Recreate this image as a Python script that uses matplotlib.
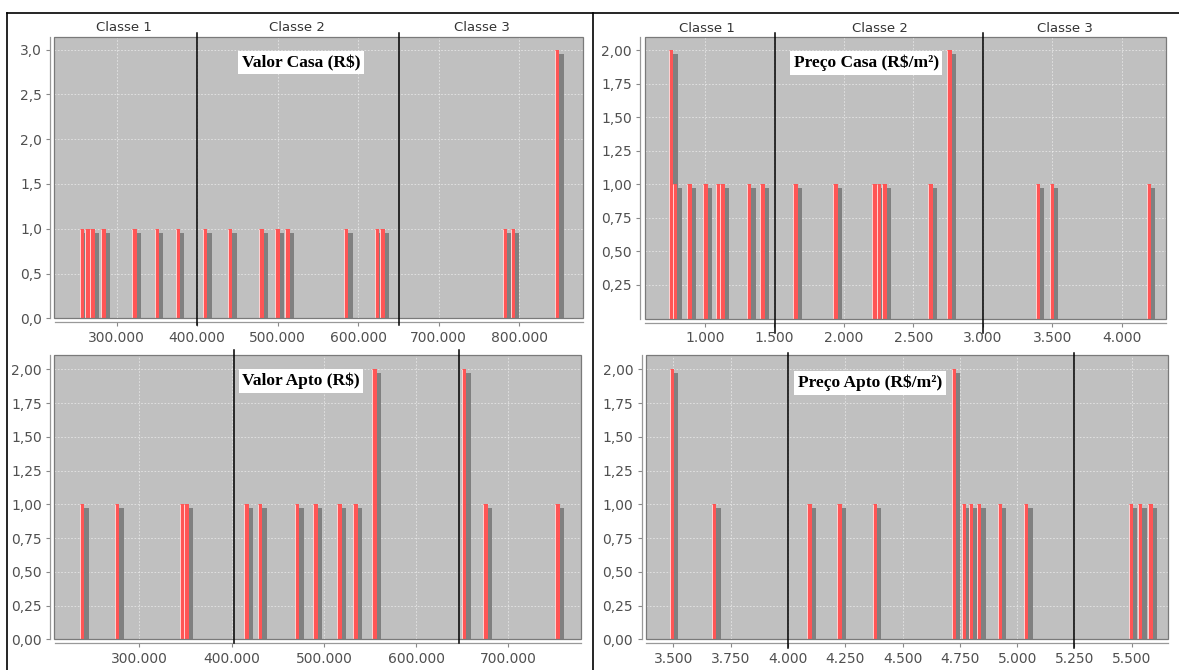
import matplotlib
matplotlib.use("Agg")
import matplotlib.pyplot as plt
import matplotlib.patheffects as pe
from matplotlib.lines import Line2D
from matplotlib.patches import Rectangle

# Valor Casa (R$) - histogram bins (center) and counts
casa_valor = [257000, 264000, 270000, 284000, 322000, 350000, 376000, 410000,
              441000, 480000, 500000, 512000, 585000, 623000, 630000, 782000,
              792000, 847000]
casa_valor_freq = [1, 1, 1, 1, 1, 1, 1, 1, 1, 1, 1, 1, 1, 1, 1, 1, 1, 3]
casa_valor_limites = [400000, 650800]

# Preco Casa (R$/m2)
casa_preco = [759, 788, 889, 1004, 1095, 1129, 1320, 1417, 1651, 1939, 2220,
              2251, 2292, 2623, 2760, 3396, 3496, 4194]
casa_preco_freq = [2, 1, 1, 1, 1, 1, 1, 1, 1, 1, 1, 1, 1, 1, 2, 1, 1, 1]
casa_preco_limites = [1505, 3000]

# Valor Apto (R$)
apto_valor = [238000, 276000, 346000, 351000, 416000, 431000, 471000, 491000,
              517000, 534000, 555000, 652000, 675000, 753000]
apto_valor_freq = [1, 1, 1, 1, 1, 1, 1, 1, 1, 1, 2, 2, 1, 1]
apto_valor_limites = [402500, 646500]

# Preco Apto (R$/m2)
apto_preco = [3493, 3678, 4094, 4224, 4379, 4724, 4768, 4798, 4834, 4924,
              5039, 5497, 5537, 5581]
apto_preco_freq = [2, 1, 1, 1, 1, 2, 1, 1, 1, 1, 1, 1, 1, 1]
apto_preco_limites = [4000, 5250]

classes = ["Classe 1", "Classe 2", "Classe 3"]

W, H = 1179, 670
BAR_PX = 4.5
VERMELHO = "#FF5555"
SOMBRA = "#808080"
FUNDO = "#C0C0C0"


def milhar(v):
    return f"{v:,.0f}".replace(",", ".")


def decimal(v, n):
    return f"{v:.{n}f}".replace(".", ",")


def painel(rect_px, valores, freq, xlim, ylim, xticks, yticks, ydec,
           limites, titulo, titulo_xy, linha_y, rotulos=None, rot_x=None):
    l, t, r, b = rect_px
    ax = fig.add_axes([l / W, 1 - b / H, (r - l) / W, (b - t) / H])
    ax.set_facecolor(FUNDO)
    ax.set_xlim(*xlim)
    ax.set_ylim(*ylim)
    ax.set_axisbelow(True)

    largura = BAR_PX * (xlim[1] - xlim[0]) / (r - l)
    barras = ax.bar(valores, freq, width=largura, color=VERMELHO,
                    linewidth=0, zorder=2)
    for p in barras:
        p.set_path_effects([pe.SimplePatchShadow(offset=(3.0, -2.9),
                                                 shadow_rgbFace=SOMBRA,
                                                 alpha=1.0),
                            pe.Normal()])
    esq = [v - largura / 2 for v in valores]
    ax.vlines(esq, 0, freq, colors="white", linewidth=0.7, alpha=0.75,
              zorder=3)

    ax.grid(True, color="white", linestyle=(0, (2, 2)), linewidth=0.6,
            alpha=0.6)

    ax.set_xticks(xticks)
    ax.set_xticklabels([milhar(v) for v in xticks])
    ax.set_yticks(yticks)
    ax.set_yticklabels([decimal(v, ydec) for v in yticks])
    ax.tick_params(axis="both", colors="#888888", labelcolor="#505050",
                   labelsize=10, length=3, width=0.8, pad=3)

    for s in ["top", "right"]:
        ax.spines[s].set_visible(False)
    for s in ["left", "bottom"]:
        ax.spines[s].set_position(("outward", 3))
        ax.spines[s].set_color("#999999")
        ax.spines[s].set_linewidth(0.9)
    ax.add_patch(Rectangle((0, 0), 1, 1, transform=ax.transAxes, fill=False,
                           edgecolor="#7a7a7a", linewidth=0.9, zorder=5,
                           clip_on=False))

    for x in limites:
        ax.axvline(x, ymin=linha_y[0], ymax=linha_y[1], color="black",
                   linewidth=1.1, clip_on=False, zorder=6)

    ax.text(titulo_xy[0], titulo_xy[1], titulo, transform=ax.transAxes,
            ha="center", va="center", fontsize=12.5, fontweight="bold",
            family="Liberation Serif", zorder=7,
            bbox=dict(facecolor="white", edgecolor="none", pad=2.5))

    if rotulos:
        for txt, x in zip(rotulos, rot_x):
            ax.text(x, 1.033, txt, transform=ax.transAxes, ha="center",
                    va="center", fontsize=9.5, color="#333333")
    return ax


fig = plt.figure(figsize=(W / 100, H / 100), dpi=100)
fig.patch.set_facecolor("white")

painel((54.5, 36.7, 583, 318.3), casa_valor, casa_valor_freq,
       (222900, 879000), (0, 3.145),
       [300000, 400000, 500000, 600000, 700000, 800000],
       [0, 0.5, 1.0, 1.5, 2.0, 2.5, 3.0], 1,
       casa_valor_limites, "Valor Casa (R$)", (0.466, 0.907),
       (-0.024, 1.013), classes, [0.1315, 0.459, 0.808])

painel((644.5, 37.3, 1166, 318.5), casa_preco, casa_preco_freq,
       (567, 4316), (0, 2.095),
       [1000, 1500, 2000, 2500, 3000, 3500, 4000],
       [0.25, 0.5, 0.75, 1.0, 1.25, 1.5, 1.75, 2.0], 2,
       casa_preco_limites, "Preço Casa (R$/m²)", (0.425, 0.909),
       (-0.05, 1.015), classes, [0.119, 0.452, 0.806])

painel((54.5, 355, 581, 639.3), apto_valor, apto_valor_freq,
       (208000, 778700), (0, 2.106),
       [300000, 400000, 500000, 600000, 700000],
       [0, 0.25, 0.5, 0.75, 1.0, 1.25, 1.5, 1.75, 2.0], 2,
       apto_valor_limites, "Valor Apto (R$)", (0.468, 0.909),
       (-0.013, 1.018))

painel((645.7, 355, 1167.5, 639.3), apto_preco, apto_preco_freq,
       (3379, 5656), (0, 2.106),
       [3500, 3750, 4000, 4250, 4500, 4750, 5000, 5250, 5500],
       [0, 0.25, 0.5, 0.75, 1.0, 1.25, 1.5, 1.75, 2.0], 2,
       apto_preco_limites, "Preço Apto (R$/m²)", (0.43, 0.901),
       (-0.03, 1.007))

# moldura externa
fig.add_artist(Line2D([7.5 / W, 7.5 / W], [0, 1 - 12.7 / H], color="black",
                      linewidth=1.2))
fig.add_artist(Line2D([7.5 / W, 1], [1 - 12.7 / H, 1 - 12.7 / H],
                      color="black", linewidth=1.2))
fig.add_artist(Line2D([592.5 / W, 592.5 / W], [0, 1 - 12.7 / H],
                      color="black", linewidth=1.2))

fig.savefig("out.png", dpi=100)
